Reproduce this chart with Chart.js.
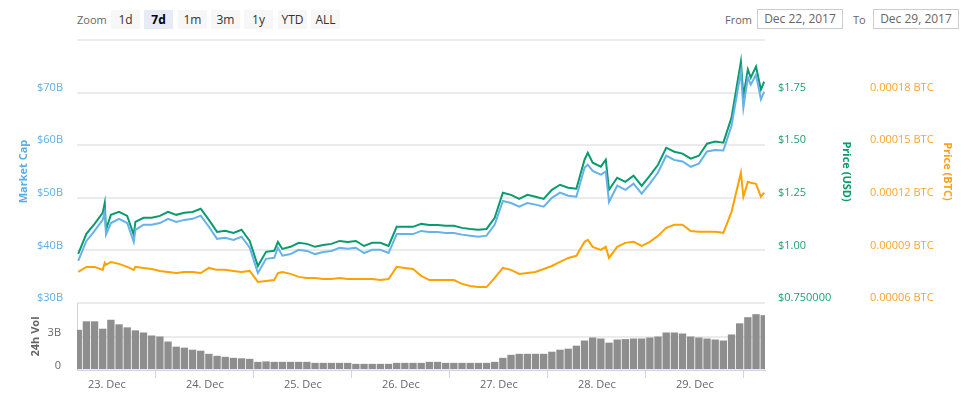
<!DOCTYPE html>
<html>
<head>
<meta charset="utf-8">
<script src="https://cdn.jsdelivr.net/npm/chart.js@4.4.0/dist/chart.umd.min.js"></script>
<style>
body { margin: 0; width: 971px; height: 402px; background: #fff; font-family: "Open Sans", sans-serif; position: relative; overflow: hidden; }
.lbl { position: absolute; top: 10px; height: 19px; line-height: 19px; font-size: 11px; color: #666; }
.btn { position: absolute; top: 10px; width: 29px; height: 19px; line-height: 19px; background: #f7f7f7; color: #333; font-size: 12px; text-align: center; }
.btn.on { background: #e6ebf5; color: #000; font-weight: bold; }
.inp { position: absolute; top: 9px; width: 84px; height: 18px; line-height: 18px; border: 1px solid #ccc; font-size: 12px; color: #666; text-align: center; }
#main { position: absolute; left: 0; top: 0; }
#vol { position: absolute; left: 0; top: 290px; }
</style>
</head>
<body>
<div class="lbl" style="left:77px">Zoom</div>
<div class="btn" style="left:111px">1d</div>
<div class="btn on" style="left:144px">7d</div>
<div class="btn" style="left:178px">1m</div>
<div class="btn" style="left:211px">3m</div>
<div class="btn" style="left:244px">1y</div>
<div class="btn" style="left:278px">YTD</div>
<div class="btn" style="left:311px">ALL</div>
<div class="lbl" style="left:725px">From</div>
<div class="inp" style="left:757px">Dec 22, 2017</div>
<div class="lbl" style="left:853px">To</div>
<div class="inp" style="left:873px">Dec 29, 2017</div>
<canvas id="main" width="971" height="310"></canvas>
<canvas id="vol" width="971" height="112"></canvas>
<script>
// hours from 23 Dec 00:00, for the three lines
var hours = [-7, -5, -3, -1, -0.5, -0.2, 1, 3, 5, 6.6,
    7, 9, 11, 13, 15, 17, 19, 21, 23, 25,
    27, 29, 31, 33, 35, 37, 39, 41, 41.9, 43,
    45, 47, 49, 51, 53, 55, 57, 59, 61, 63,
    65, 67, 69, 71, 73, 75, 77, 79, 81, 83,
    85, 87, 89, 91, 93, 95, 97, 99, 101, 103,
    105, 107, 109, 111, 113, 115, 117, 117.8, 119, 121,
    122.2, 123, 125, 127, 129, 131, 133, 135, 137, 139,
    141, 143, 145, 147, 149, 151, 153, 155.3, 155.9, 157,
    157.7, 159, 160.2, 161];

// billions USD
var marketCap = [38.0, 41.8, 43.7, 45.8, 47.3, 43.0, 45.2, 46.0, 45.2, 41.6,
    43.9, 44.9, 44.9, 45.2, 46.0, 45.4, 45.8, 46.0, 46.6, 44.5,
    42.2, 42.4, 42.0, 42.6, 40.5, 35.7, 38.4, 38.6, 40.5, 39.0,
    39.3, 40.1, 39.9, 39.3, 39.7, 39.9, 40.5, 40.3, 40.5, 39.5,
    40.1, 40.1, 39.5, 43.1, 43.1, 43.1, 43.7, 43.5, 43.5, 43.3,
    43.3, 43.0, 42.8, 42.6, 42.8, 44.9, 49.4, 49.0, 48.3, 49.0,
    48.7, 48.3, 50.0, 51.0, 50.4, 50.2, 55.7, 56.3, 55.1, 54.4,
    55.0, 49.2, 52.3, 51.5, 52.7, 50.8, 52.7, 54.8, 58.0, 57.2,
    56.9, 55.9, 56.5, 58.8, 59.1, 59.0, 63.7, 74.0, 67.1, 72.9,
    71.5, 73.4, 68.7, 70.2];

var priceUsd = [0.983, 1.079, 1.126, 1.179, 1.226, 1.098, 1.169, 1.183, 1.164, 1.074,
    1.136, 1.155, 1.155, 1.164, 1.183, 1.169, 1.179, 1.183, 1.198, 1.145,
    1.088, 1.093, 1.083, 1.098, 1.045, 0.926, 0.993, 0.998, 1.040, 1.007,
    1.017, 1.036, 1.031, 1.017, 1.026, 1.031, 1.045, 1.040, 1.045, 1.021,
    1.036, 1.036, 1.021, 1.112, 1.112, 1.112, 1.126, 1.121, 1.121, 1.117,
    1.117, 1.107, 1.102, 1.098, 1.102, 1.155, 1.274, 1.264, 1.245, 1.264,
    1.255, 1.245, 1.288, 1.312, 1.298, 1.293, 1.431, 1.464, 1.417, 1.398,
    1.431, 1.288, 1.345, 1.326, 1.355, 1.307, 1.355, 1.407, 1.488, 1.469,
    1.460, 1.436, 1.450, 1.507, 1.517, 1.512, 1.631, 1.898, 1.731, 1.860,
    1.821, 1.874, 1.764, 1.802];

var priceBtc = [0.0000777, 0.0000806, 0.0000806, 0.0000789, 0.0000829, 0.0000817, 0.0000834, 0.0000823, 0.0000806, 0.0000789,
    0.0000806, 0.0000800, 0.0000794, 0.0000783, 0.0000777, 0.0000771, 0.0000777, 0.0000777, 0.0000771, 0.0000800,
    0.0000789, 0.0000789, 0.0000783, 0.0000777, 0.0000783, 0.0000720, 0.0000726, 0.0000731, 0.0000771, 0.0000777,
    0.0000766, 0.0000749, 0.0000743, 0.0000743, 0.0000737, 0.0000737, 0.0000743, 0.0000737, 0.0000737, 0.0000737,
    0.0000737, 0.0000731, 0.0000737, 0.0000806, 0.0000800, 0.0000794, 0.0000754, 0.0000731, 0.0000731, 0.0000731,
    0.0000731, 0.0000709, 0.0000697, 0.0000691, 0.0000691, 0.0000743, 0.0000800, 0.0000789, 0.0000766, 0.0000771,
    0.0000777, 0.0000794, 0.0000811, 0.0000834, 0.0000857, 0.0000869, 0.0000949, 0.0000960, 0.0000920, 0.0000903,
    0.0000920, 0.0000857, 0.0000920, 0.0000943, 0.0000949, 0.0000926, 0.0000949, 0.0000983, 0.0001029, 0.0001046,
    0.0001046, 0.0001011, 0.0001006, 0.0001006, 0.0001006, 0.0001000, 0.0001120, 0.0001343, 0.0001206, 0.0001291,
    0.0001286, 0.0001280, 0.0001206, 0.0001229];

// volume bars, one per 2 hours
var volHours = [-7, -5, -3, -1, 1, 3, 5, 7, 9, 11,
    13, 15, 17, 19, 21, 23, 25, 27, 29, 31,
    33, 35, 37, 39, 41, 43, 45, 47, 49, 51,
    53, 55, 57, 59, 61, 63, 65, 67, 69, 71,
    73, 75, 77, 79, 81, 83, 85, 87, 89, 91,
    93, 95, 97, 99, 101, 103, 105, 107, 109, 111,
    113, 115, 117, 119, 121, 123, 125, 127, 129, 131,
    133, 135, 137, 139, 141, 143, 145, 147, 149, 151,
    153, 155, 157, 159, 161];

// 24h volume, billions USD
var volume = [3.6, 4.36, 4.36, 3.7, 4.5, 4.09, 3.82, 3.55, 3.36, 3.09,
    3.0, 2.55, 2.09, 2.0, 1.82, 1.73, 1.45, 1.27, 1.18, 1.09,
    1.05, 1.0, 0.73, 0.77, 0.73, 0.73, 0.73, 0.73, 0.73, 0.64,
    0.64, 0.64, 0.64, 0.64, 0.55, 0.55, 0.55, 0.55, 0.55, 0.64,
    0.64, 0.64, 0.64, 0.73, 0.73, 0.64, 0.64, 0.64, 0.64, 0.64,
    0.64, 0.73, 1.09, 1.36, 1.45, 1.45, 1.45, 1.45, 1.64, 1.82,
    1.91, 2.18, 2.64, 2.91, 2.82, 2.45, 2.73, 2.77, 2.82, 2.82,
    2.91, 3.0, 3.36, 3.36, 3.27, 3.0, 2.91, 2.82, 2.73, 2.64,
    3.18, 4.18, 4.73, 5.0, 4.91];

var dayTicks = [0, 24, 48, 72, 96, 120, 144];
var dayLabels = ["23. Dec", "24. Dec", "25. Dec", "26. Dec", "27. Dec", "28. Dec", "29. Dec"];

var X_MIN = -7.3, X_MAX = 161.2;
var BLUE = "#66b2ea", GREEN = "#089b6d", ORANGE = "#ffa200";

Chart.defaults.font.family = '"Open Sans", sans-serif';
Chart.defaults.font.size = 11;

function pts(xs, vals) {
    return xs.map(function (h, i) { return { x: h, y: vals[i] }; });
}

function lineSet(label, vals, axis, color) {
    return {
        label: label, data: pts(hours, vals), yAxisID: axis,
        borderColor: color, borderWidth: 2, pointRadius: 0, tension: 0, fill: false
    };
}

// y scales: fixed width, and no extra top/bottom room for the end labels
function fixWidth(w) {
    return function (s) {
        s.width = w;
        s.paddingTop = 0;
        s.paddingBottom = 0;
    };
}

new Chart(document.getElementById("main"), {
    type: "line",
    data: {
        datasets: [
            lineSet("Market Cap", marketCap, "yCap", BLUE),
            lineSet("Price (USD)", priceUsd, "yUsd", GREEN),
            lineSet("Price (BTC)", priceBtc, "yBtc", ORANGE)
        ]
    },
    options: {
        responsive: false, animation: false, devicePixelRatio: 1,
        layout: { padding: { left: 17, right: 17, top: 40, bottom: 7 } },
        plugins: { legend: { display: false }, tooltip: { enabled: false } },
        scales: {
            x: { type: "linear", min: X_MIN, max: X_MAX, display: false },
            yCap: {
                position: "left", min: 30, max: 80,
                afterFit: fixWidth(60),
                ticks: {
                    stepSize: 10, padding: 14, labelOffset: -5, color: "#5fb0e8",
                    callback: function (v) { return v === 80 ? "" : "$" + v + "B"; }
                },
                title: { display: true, text: "Market Cap", color: "#5aaee8", padding: 0, font: { weight: "bold", size: 11 } },
                grid: { color: "#ebebeb", lineWidth: 2, drawTicks: false },
                border: { display: false }
            },
            yUsd: {
                position: "right", min: 0.75, max: 2.0,
                afterFit: fixWidth(88),
                ticks: {
                    stepSize: 0.25, padding: 13, labelOffset: -5, color: "#1a9f74",
                    callback: function (v) {
                        if (v >= 2) return "";
                        return v === 0.75 ? "$0.750000" : "$" + v.toFixed(2);
                    }
                },
                title: { display: true, text: "Price (USD)", color: GREEN, padding: 0, font: { weight: "bold", size: 11 } },
                grid: { drawOnChartArea: false, drawTicks: false },
                border: { display: false }
            },
            yBtc: {
                position: "right", min: 0.00006, max: 0.00021,
                afterFit: fixWidth(101),
                ticks: {
                    stepSize: 0.00003, padding: 17, labelOffset: -5, color: "#f8a52a",
                    callback: function (v) { return v > 0.0002 ? "" : v.toFixed(5) + " BTC"; }
                },
                title: { display: true, text: "Price (BTC)", color: "#fca219", padding: 0, font: { weight: "bold", size: 11 } },
                grid: { drawOnChartArea: false, drawTicks: false },
                border: { display: false }
            }
        }
    }
});

new Chart(document.getElementById("vol"), {
    type: "bar",
    data: {
        datasets: [{
            label: "24h Vol", data: pts(volHours, volume),
            backgroundColor: "#8e8e8e", barPercentage: 1, categoryPercentage: 0.9
        }]
    },
    options: {
        responsive: false, animation: false, devicePixelRatio: 1,
        layout: { padding: { left: 29, right: 206, top: 13, bottom: 0 } },
        plugins: { legend: { display: false }, tooltip: { enabled: false } },
        scales: {
            x: {
                type: "linear", min: X_MIN, max: X_MAX, offset: false,
                afterBuildTicks: function (s) { s.ticks = dayTicks.map(function (v) { return { value: v }; }); },
                afterFit: function (s) { s.height = 32; },
                ticks: {
                    autoSkip: false, maxRotation: 0, padding: 0, color: "#666",
                    callback: function (v) { return dayLabels[dayTicks.indexOf(v)]; }
                },
                grid: { drawOnChartArea: false, drawTicks: true, tickLength: 8, color: "#ccd6eb" },
                border: { display: true, color: "#ccd6eb" }
            },
            y: {
                min: 0, max: 6,
                afterFit: fixWidth(48),
                ticks: {
                    stepSize: 3, padding: 16, labelOffset: -4, color: "#666",
                    callback: function (v) { return v === 6 ? "" : (v === 0 ? "0" : v + "B"); }
                },
                title: { display: true, text: "24h Vol", color: "#666", padding: 0, font: { weight: "bold", size: 11 } },
                grid: { color: "#ebebeb", lineWidth: 2, drawTicks: false },
                border: { display: true, color: "#ccd6eb" }
            }
        }
    }
});
</script>
</body>
</html>
